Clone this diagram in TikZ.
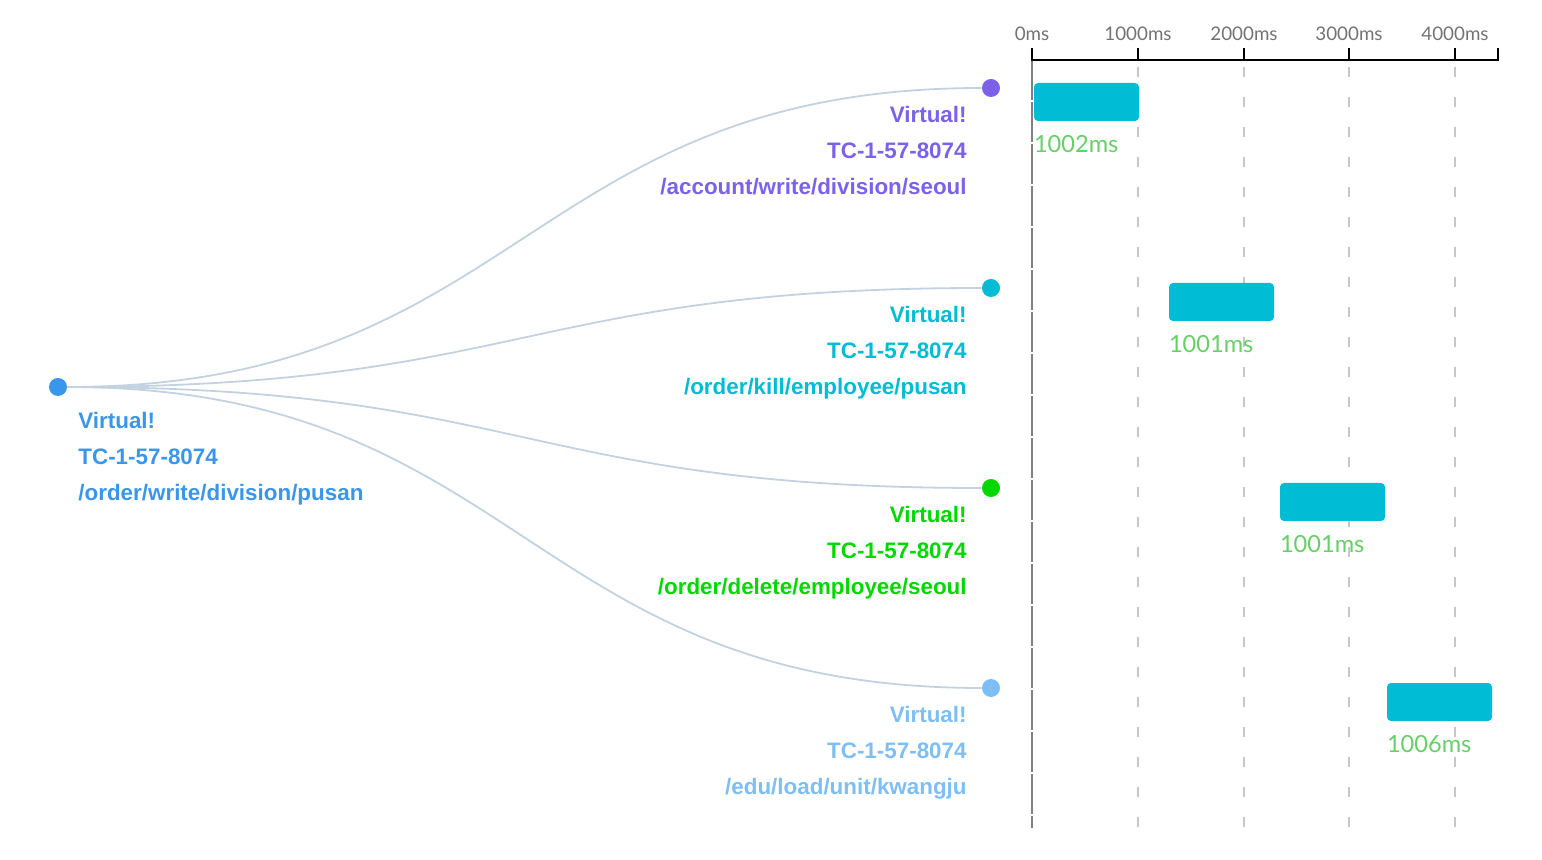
\documentclass[tikz,border=0pt]{standalone}
\usepackage{fontspec}
\setmainfont{Liberation Sans}
\newfontfamily\axisfont{Lato}
\usepackage{tikz}
\usetikzlibrary{shapes}
\usetikzlibrary{arrows}
\usetikzlibrary{positioning}

\definecolor{rootblue}{HTML}{3A96EA}
\definecolor{accpurple}{HTML}{7C62EB}
\definecolor{killcyan}{HTML}{00BCD4}
\definecolor{delgreen}{HTML}{00D800}
\definecolor{edublue}{HTML}{7DBFF5}
\definecolor{linkgray}{HTML}{C3D2E0}
\definecolor{barcyan}{HTML}{00BCD4}
\definecolor{durgreen}{HTML}{66D066}

\begin{document}
\begin{tikzpicture}[x=0.5pt,y=-0.5pt]
\tikzstyle{dot} = [circle, inner sep=0pt, minimum size=9pt];
\tikzstyle{info} = [inner sep=0pt, align=right, font=\bfseries\fontsize{11.2}{18}\selectfont];
\tikzstyle{link} = [draw=linkgray, line width=0.9pt];
\tikzstyle{bar} = [rectangle, fill=barcyan, rounded corners=2pt, inner sep=0pt,
minimum width=52.5pt, minimum height=19pt];
\tikzstyle{dur} = [inner sep=0pt, anchor=west, text=durgreen, font=\axisfont\fontsize{11.8}{13}\selectfont];
\tikzstyle{tick} = [text=black!55, font=\axisfont\fontsize{9.4}{11}\selectfont];
\useasboundingbox (0,0) rectangle (1542,860);

% root
\node [dot, fill=rootblue] (root) at (58,387) {};
\node [info, align=left, anchor=north west, text=rootblue] (rootinfo) at (78,412)
{Virtual!\\TC-1-57-8074\\/order/write/division/pusan};

% children
\node [dot, fill=accpurple] (acc) at (991,88) {};
\node [dot, fill=killcyan] (kill) at (991,288) {};
\node [dot, fill=delgreen] (del) at (991,488) {};
\node [dot, fill=edublue] (edu) at (991,688) {};
\node [info, anchor=north east, text=accpurple] (accinfo) at (967,106)
{Virtual!\\TC-1-57-8074\\/account/write/division/seoul};
\node [info, anchor=north east, text=killcyan] (killinfo) at (967,306)
{Virtual!\\TC-1-57-8074\\/order/kill/employee/pusan};
\node [info, anchor=north east, text=delgreen] (delinfo) at (967,506)
{Virtual!\\TC-1-57-8074\\/order/delete/employee/seoul};
\node [info, anchor=north east, text=edublue] (eduinfo) at (967,706)
{Virtual!\\TC-1-57-8074\\/edu/load/unit/kwangju};

% links
\draw [link] (root.east) to [out=0, in=180, looseness=1.21] (acc.west);
\draw [link] (root.east) to [out=0, in=180, looseness=1.27] (kill.west);
\draw [link] (root.east) to [out=0, in=180, looseness=1.27] (del.west);
\draw [link] (root.east) to [out=0, in=180, looseness=1.21] (edu.west);

% time axis
\foreach \x in {1138,1244,1349,1455}
  \draw [black!22, line width=0.9pt, dash pattern=on 5pt off 10pt] (\x,67) -- (\x,828);
\draw [black!50, line width=1pt, dash pattern=on 20pt off 1pt] (1032,60) -- (1032,828);
\draw [black, line width=1.1pt] (1032,48) -- (1032,60) -- (1498,60) -- (1498,48);
\foreach \x/\t in {1032/0,1138/1000,1244/2000,1349/3000,1455/4000}
{
  \draw [black, line width=1.1pt] (\x,48) -- (\x,60);
  \node [tick] at (\x,34) {\t ms};
}

% bars
\node [bar] (bar1) at (1086.5,102) {};
\node [bar] (bar2) at (1221.5,302) {};
\node [bar] (bar3) at (1332.5,502) {};
\node [bar] (bar4) at (1439.5,702) {};
\node [dur] at ([yshift=-11.5pt]bar1.south west) {1002ms};
\node [dur] at ([yshift=-11.5pt]bar2.south west) {1001ms};
\node [dur] at ([yshift=-11.5pt]bar3.south west) {1001ms};
\node [dur] at ([yshift=-11.5pt]bar4.south west) {1006ms};
\end{tikzpicture}
\end{document}
